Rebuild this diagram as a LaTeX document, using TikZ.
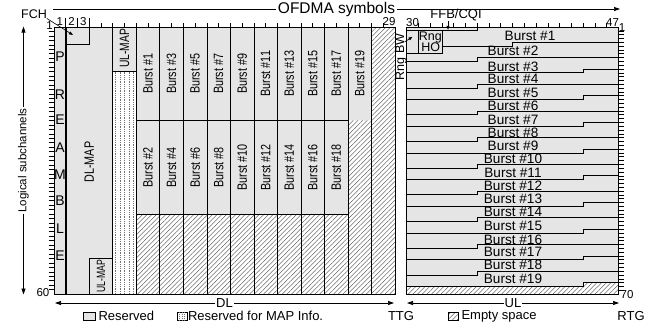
\documentclass[tikz,border=0pt]{standalone}
\usepackage{fontspec}
\usepackage{graphicx}
\setmainfont{Liberation Sans}
\usetikzlibrary{arrows.meta,patterns.meta}
\newcommand{\myfs}[1]{\fontsize{#1bp}{#1bp}\selectfont}
\newcommand{\sqz}[2][0.8]{\scalebox{#1}[1]{#2}}
\def\s{11.7586}
\def\u{3.81429}
\def\h{4.45}
\begin{document}
\begin{tikzpicture}[x=1bp,y=-1bp,
  every node/.style={inner sep=0pt,outer sep=0pt},
  gline/.style={line width=0.7bp},
  arr/.style={line width=0.7bp,-{Triangle[length=6bp,width=4bp]}},
  sarr/.style={line width=0.6bp,-{Triangle[length=4bp,width=3bp]}},
  darr/.style={line width=0.7bp,{Triangle[length=6bp,width=4bp]}-{Triangle[length=6bp,width=4bp]}},
  hatchfill/.style={pattern={Lines[angle=45,distance=3.3bp,line width=0.35bp]},pattern color=black!75},
  resfill/.style={fill=gray!20},
  dotline/.style={line width=0.5bp,black!55,dash pattern=on 0.8bp off 1.0bp},
  vlab/.style={rotate=90,font=\myfs{13.5}},
  ulab/.style={font=\myfs{13.6}},
  tlab/.style={font=\myfs{11.5}},
  leg/.style={font=\myfs{13}},
  pre/.style={font=\myfs{14}},
]
\useasboundingbox (0,0) rectangle (654,329);

% ---------------- DL grid ----------------
\coordinate (dlTL) at (54,27);
\coordinate (dlBR) at (395,294);
\fill[resfill] (dlTL) rectangle (dlBR);
% reserved for MAP info (dotted)
\fill[white] ({54+5*\s},{27+10*\h}) rectangle ({54+7*\s},294);
\foreach \xx in {115.5,120,124.5,129,133.5}
  \draw[dotline] (\xx,{27+10*\h}) -- (\xx,294);
% empty space (hatched)
\path[fill=white] ({54+7*\s},{27+42*\h}) -- ({54+25*\s},{27+42*\h}) -- ({54+25*\s},{27+21*\h})
  -- ({54+27*\s},{27+21*\h}) -- ({54+27*\s},27) -- (395,27) -- (395,294) -- ({54+7*\s},294) -- cycle;
\path[hatchfill] ({54+7*\s},{27+42*\h}) -- ({54+25*\s},{27+42*\h}) -- ({54+25*\s},{27+21*\h})
  -- ({54+27*\s},{27+21*\h}) -- ({54+27*\s},27) -- (395,27) -- (395,294) -- ({54+7*\s},294) -- cycle;
% lines
\draw[gline] (dlTL) rectangle (dlBR);
\draw[line width=1.6bp] ({54+\s},27) -- ({54+\s},294);
\draw[gline] ({54+\s},27) rectangle ({54+3*\s},{27+4*\h});
\draw[gline] ({54+5*\s},27) -- ({54+5*\s},294);
\draw[gline] ({54+5*\s},{27+10*\h}) -- ({54+7*\s},{27+10*\h});
\draw[gline] ({54+3*\s},{27+52*\h}) rectangle ({54+5*\s},294);
\foreach \k in {7,9,...,27}
  \draw[gline] ({54+\k*\s},27) -- ({54+\k*\s},294);
\draw[gline] ({54+7*\s},{27+21*\h}) -- ({54+25*\s},{27+21*\h});
\draw[gline] ({54+7*\s},{27+42*\h}) -- ({54+25*\s},{27+42*\h});

% top ticks DL
\foreach \k in {2,3,4} \draw[gline] ({54+(\k-1)*\s},18) -- ({54+(\k-1)*\s},27);
\foreach \k in {5,...,29} \draw[gline] ({54+(\k-1)*\s},23) -- ({54+(\k-1)*\s},27);
% left ticks
\foreach \r in {1,...,59} \draw[line width=0.5bp] (48.5,{27+\r*\h}) -- (54,{27+\r*\h});

% tick labels
\node[tlab] (t1) at ({54+0.5*\s},21.5) {1};
\node[tlab] (t2) at ({54+1.5*\s},21.5) {2};
\node[tlab] (t3) at ({54+2.5*\s},21.5) {3};
\node[tlab] (t29) at ({54+28.5*\s},22) {29};
\node[tlab] (sc1) at (49.5,25.5) {1};
\node[tlab] (sc60) at (43,292.5) {60};

% PREAMBLE
\node[pre] (pP) at (60,57) {P};
\node[pre] (pR) at (60,95) {R};
\node[pre] (pE) at (60,120) {E};
\node[pre] (pA) at (60,148) {A};
\node[pre] (pM) at (60,174.5) {M};
\node[pre] (pB) at (60,201) {B};
\node[pre] (pL) at (60,229) {L};
\node[pre] (pE2) at (60,256) {E};

% FCH
\node[font=\myfs{12.5}] (fch) at (34,14) {FCH};
\coordinate (fchTip) at (73,35);
\draw[sarr] (fch.south east) -- (fchTip);

% MAP labels
\node[vlab] (dlmap) at ({54+3*\s},162) {\sqz{DL-MAP}};
\node[vlab] (ulmap) at ({54+6*\s},48.5) {\sqz[0.76]{UL-MAP}};
\node[rotate=90,font=\myfs{12}] (ulmap2) at ({54+4*\s},276) {\sqz[0.72]{UL-MAP}};

% DL bursts
\foreach \i [evaluate=\i as \xc using {54+(8+2*\i)*\s}, evaluate=\i as \no using {int(2*\i+1)}] in {0,...,9}
  \node[vlab] (dlb\no) at (\xc,73.7) {\sqz{Burst \#\no}};
\foreach \i [evaluate=\i as \xc using {54+(8+2*\i)*\s}, evaluate=\i as \no using {int(2*\i+2)}] in {0,...,8}
  \node[vlab] (dlb\no) at (\xc,167.2) {\sqz{Burst \#\no}};

% ---------------- UL grid ----------------
\coordinate (ulTL) at ({54+30*\s},27);
\coordinate (ulBR) at ({54+48*\s},294);
\fill[resfill] (ulTL) rectangle (ulBR);
\path[fill=white] ({54+30*\s},{27+68*\u}) -- ({54+45*\s},{27+68*\u}) -- ({54+45*\s},{27+67*\u})
  -- ({54+48*\s},{27+67*\u}) -- ({54+48*\s},294) -- ({54+30*\s},294) -- cycle;
\path[hatchfill] ({54+30*\s},{27+68*\u}) -- ({54+45*\s},{27+68*\u}) -- ({54+45*\s},{27+67*\u})
  -- ({54+48*\s},{27+67*\u}) -- ({54+48*\s},294) -- ({54+30*\s},294) -- cycle;
\draw[gline] (ulTL) rectangle (ulBR);
% FFB/CQI strip
\draw[gline] ({54+30*\s},{27+\u}) -- ({54+36*\s},{27+\u}) -- ({54+36*\s},27);
% Rng HO box and Rng BW
\draw[gline] ({54+31*\s},{27+\u}) rectangle ({54+33*\s},{27+7*\u});
\draw[gline] ({54+30*\s},{27+7*\u}) -- ({54+31*\s},{27+7*\u});
% Burst #1 lower edge
\draw[gline] ({54+33*\s},{27+5*\u}) -- ({54+39*\s},{27+5*\u}) -- ({54+39*\s},{27+4*\u}) -- ({54+48*\s},{27+4*\u});
% other bursts
\foreach \r/\st in {8/36,11/45,15/36,18/45,22/36,25/45,29/36,32/45,36/36,39/45,43/36,46/45,50/36,53/45,57/36,60/45,64/36,67/45}
  \draw[gline] ({54+30*\s},{27+(\r+1)*\u}) -- ({54+\st*\s},{27+(\r+1)*\u}) -- ({54+\st*\s},{27+\r*\u}) -- ({54+48*\s},{27+\r*\u});

% top ticks UL
\foreach \k in {31,...,47} \draw[gline] ({54+\k*\s},23) -- ({54+\k*\s},27);
% right ticks
\foreach \r in {1,...,69} \draw[line width=0.5bp] ({54+48*\s},{27+\r*\u}) -- ({54+48*\s+5.5},{27+\r*\u});
\node[tlab] (t30) at ({54+30.5*\s},22.5) {30};
\node[tlab] (t47) at ({54+47.5*\s},22.5) {47};
\node[tlab] (usc1) at (622,28) {1};
\node[tlab] (usc70) at (627,295) {70};

% FFB/CQI
\node[font=\myfs{13}] (ffb) at (456,15.5) {FFB/CQI};
\coordinate (ffbTip) at (448,29.8);
\draw[sarr] (448,20.5) -- (ffbTip);
% Rng BW
\node[rotate=90,font=\myfs{12.5}] (rngbw) at (401,57) {Rng BW};
\coordinate (rngTip) at (412.5,36.8);
\draw[sarr] (404.5,42) -- (rngTip);
% Rng HO
\node[font=\myfs{12.5},anchor=base] (rng) at ({54+32*\s},40.7) {Rng};
\node[font=\myfs{12.5},anchor=base] (ho) at ({54+32*\s+0.5},51.7) {HO};

% UL burst labels
\node[ulab] (ulb1) at (530,35.8) {Burst \#1};
\foreach \no/\yy in {2/51.3,3/66.6,4/79.2,5/92.8,6/105.6,7/119.6,8/132.6,9/145.6,10/158.6,11/172.9,12/185.4,13/198.9,14/212.1,15/226.3,16/239.4,17/252.3,18/265.3,19/279.3}
  \node[ulab] (ulb\no) at (513,\yy) {Burst \#\no};

% ---------------- arrows & labels ----------------
\coordinate (oL) at (53,9);
\coordinate (oR) at (620,9);
\draw[arr] (oL) -- node[fill=white,inner xsep=1.5bp,inner ysep=1bp,font=\myfs{15.5}] (ofdma) {OFDMA symbols} (oR);

\coordinate (lsT) at (23.5,26.5);
\coordinate (lsB) at (23.5,294.5);
\draw[darr] (lsT) -- node[fill=white,rotate=90,inner xsep=1.5bp,inner ysep=1bp,font=\myfs{11.5}] (ls) {Logical subchannels} (lsB);

\coordinate (dlL) at (55,303);
\coordinate (dlR) at (394,303);
\draw[darr] (dlL) -- node[fill=white,inner xsep=1bp,font=\myfs{13}] (dl) {DL} (dlR);
\coordinate (ulL) at (407,303);
\coordinate (ulR) at (619,303);
\draw[darr] (ulL) -- node[fill=white,inner xsep=1bp,font=\myfs{13}] (ul) {UL} (ulR);

\node[leg] (ttg) at (401,316.2) {TTG};
\node[leg] (rtg) at (631,316.2) {RTG};

% legend
\draw[gline,resfill] (83,312) rectangle (95,320.5);
\node[leg,anchor=west] (lg1) at (98.5,316.2) {Reserved};
\draw[gline] (177,312) rectangle (187,320.5);
\foreach \xx in {179.5,182,184.5} \draw[dotline] (\xx,312.3) -- (\xx,320.2);
\node[leg,anchor=west] (lg2) at (188,316.2) {Reserved for MAP Info.};
\fill[white] (448,312) rectangle (458,320.5);
\path[hatchfill] (448,312) rectangle (458,320.5);
\draw[gline] (448,312) rectangle (458,320.5);
\node[leg,anchor=west] (lg3) at (461.5,316.2) {Empty space};
\end{tikzpicture}
\end{document}
